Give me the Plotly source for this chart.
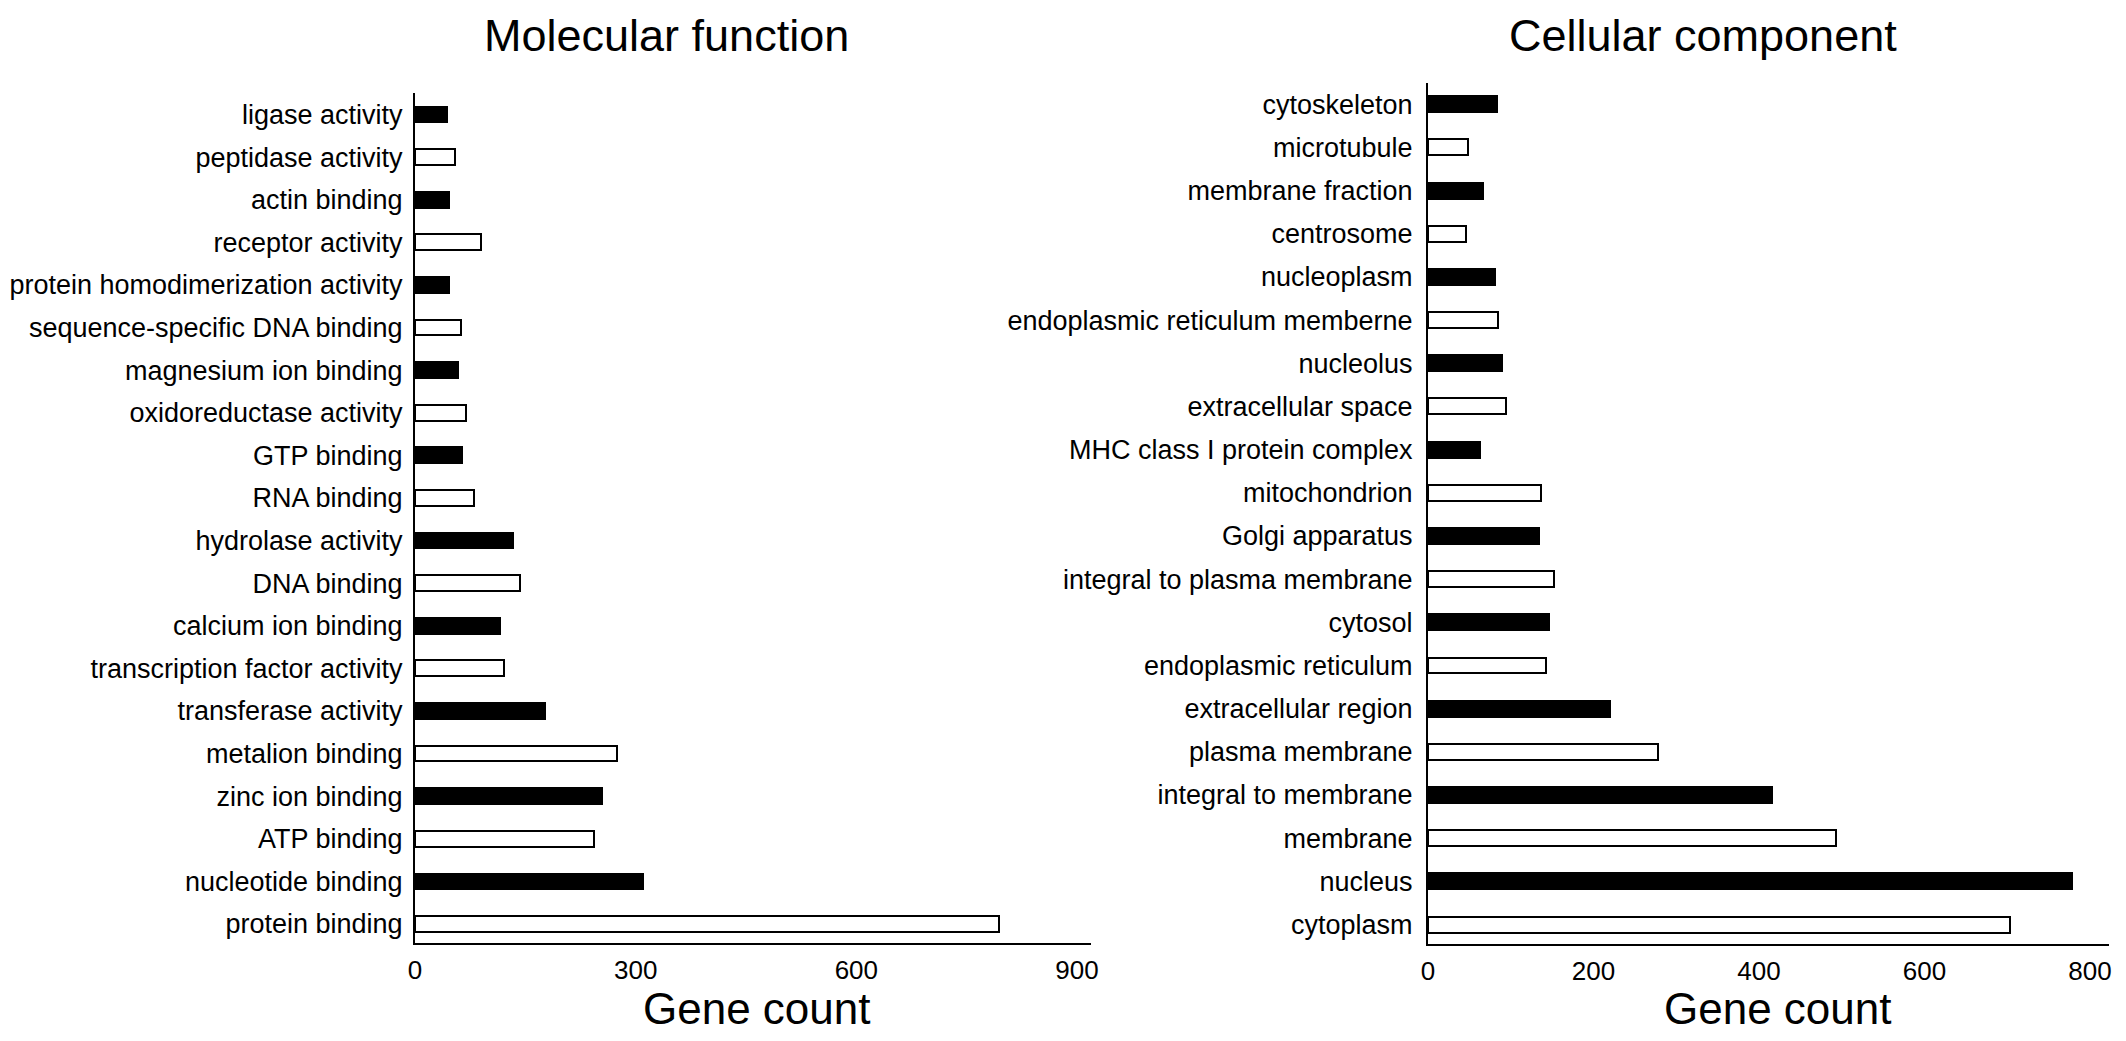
import plotly.graph_objects as go

W, H = 2126, 1041          # browser window
PAD = 8                    # default body margin of the html page
FW, FH = W - 2 * PAD, H - 2 * PAD

# ---------------- data (top-to-bottom as in the figure) ----------------
mf_terms = [
    "ligase activity", "peptidase activity", "actin binding", "receptor activity",
    "protein homodimerization activity", "sequence-specific DNA binding",
    "magnesium ion binding", "oxidoreductase activity", "GTP binding", "RNA binding",
    "hydrolase activity", "DNA binding", "calcium ion binding",
    "transcription factor activity", "transferase activity", "metalion binding",
    "zinc ion binding", "ATP binding", "nucleotide binding", "protein binding",
]
mf_counts = [44, 55, 46, 90, 46, 62, 59, 69, 64, 80,
             133, 143, 115, 121, 177, 274, 254, 243, 310, 794]

cc_terms = [
    "cytoskeleton", "microtubule", "membrane fraction", "centrosome", "nucleoplasm",
    "endoplasmic reticulum memberne", "nucleolus", "extracellular space",
    "MHC class I protein complex", "mitochondrion", "Golgi apparatus",
    "integral to plasma membrane", "cytosol", "endoplasmic reticulum",
    "extracellular region", "plasma membrane", "integral to membrane",
    "membrane", "nucleus", "cytoplasm",
]
cc_counts = [83, 48, 66, 46, 81, 85, 89, 94, 63, 136,
             134, 152, 146, 143, 220, 278, 416, 493, 778, 703]

mf_ticks = [0, 300, 600, 900]
cc_ticks = [0, 200, 400, 600, 800]

panel_titles = ["Molecular function", "Cellular component"]
x_title = "Gene count"

# ---------------- helpers (screen pixel -> paper fraction) ----------------
def px_x(p):
    return (p - PAD) / FW

def px_y(p):
    return 1 - (p - PAD) / FH

FONT = "Arial, 'Liberation Sans', Helvetica, sans-serif"

def colors(n):
    return ["black" if i % 2 == 0 else "white" for i in range(n)]

fig = go.Figure()

fig.add_trace(go.Bar(
    x=mf_counts, y=mf_terms, orientation="h", width=0.37,
    marker=dict(color=colors(len(mf_terms)), line=dict(color="black", width=2)),
    xaxis="x", yaxis="y", showlegend=False,
))
fig.add_trace(go.Bar(
    x=cc_counts, y=cc_terms, orientation="h", width=0.37,
    marker=dict(color=colors(len(cc_terms)), line=dict(color="black", width=2)),
    xaxis="x2", yaxis="y2", showlegend=False,
))

tickfont = dict(family=FONT, size=26, color="black")
catfont = dict(family=FONT, size=27, color="black")

common_x = dict(showline=True, linecolor="black", linewidth=2, ticks="",
                showgrid=False, zeroline=False, tickfont=tickfont,
                automargin=False, ticklabelstandoff=3)
common_y = dict(showline=True, linecolor="black", linewidth=2, ticks="",
                showgrid=False, zeroline=False, tickfont=catfont,
                automargin=False, type="category", categoryorder="array")

fig.update_layout(
    width=FW, height=FH,
    margin=dict(l=0, r=0, t=0, b=0),
    paper_bgcolor="white", plot_bgcolor="white",
    font=dict(family=FONT, color="black"),
    bargap=0,
    xaxis=dict(domain=[px_x(415), px_x(1091)], range=[0, 919],
               tickvals=mf_ticks, anchor="y", **common_x),
    yaxis=dict(domain=[px_y(943), px_y(93)], range=[-0.446, 19.505],
               categoryarray=mf_terms[::-1], anchor="x", ticklabelstandoff=5, **common_y),
    xaxis2=dict(domain=[px_x(1428), px_x(2109)], range=[0, 823],
                tickvals=cc_ticks, anchor="y2", **common_x),
    yaxis2=dict(domain=[px_y(944), px_y(83)], range=[-0.45, 19.49],
                categoryarray=cc_terms[::-1], anchor="x2", ticklabelstandoff=8, **common_y),
)

# panel titles and x-axis titles
for cx, t in zip([666, 1703], panel_titles):
    fig.add_annotation(text=t, x=px_x(cx), y=px_y(35), xref="paper", yref="paper",
                       xanchor="center", yanchor="middle", showarrow=False,
                       font=dict(family=FONT, size=45, color="black"))
for cx in [757, 1778]:
    fig.add_annotation(text=x_title, x=px_x(cx), y=px_y(1008), xref="paper", yref="paper",
                       xanchor="center", yanchor="middle", showarrow=False,
                       font=dict(family=FONT, size=44, color="black"))

fig.write_html("out.html")
